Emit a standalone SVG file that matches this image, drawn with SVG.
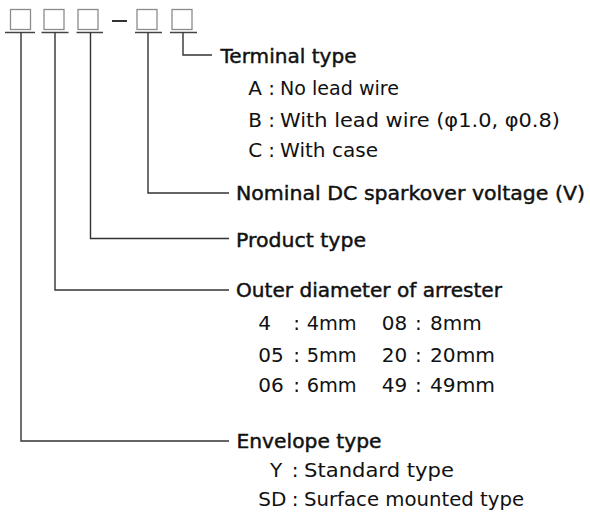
<svg xmlns="http://www.w3.org/2000/svg" width="590" height="517" viewBox="0 0 590 517">
<style>
.box{fill:none;stroke:#8c8c8c;stroke-width:1.3}
.ul{stroke:#444;stroke-width:1.5;fill:none}
.con{stroke:#333;stroke-width:1.4;fill:none}
text{font-family:"DejaVu Sans","Liberation Sans",sans-serif;font-size:20px;fill:#111}
.h{stroke:#111;stroke-width:0.45}
.c{text-anchor:middle}
</style>
<rect width="590" height="517" fill="#fff"/>
<g id="code">
<g id="box1"><rect class="box" x="10.5" y="9.5" width="20" height="20"/><line class="ul" x1="5" y1="32.5" x2="35" y2="32.5"/></g>
<g id="box2"><rect class="box" x="44" y="9.5" width="20" height="20"/><line class="ul" x1="41.5" y1="32.5" x2="68.5" y2="32.5"/></g>
<g id="box3"><rect class="box" x="78" y="9.5" width="20" height="20"/><line class="ul" x1="76.5" y1="32.5" x2="103" y2="32.5"/></g>
<line id="dash" x1="112" y1="21" x2="127" y2="21" stroke="#333" stroke-width="2"/>
<g id="box4"><rect class="box" x="137" y="9.5" width="20" height="20"/><line class="ul" x1="135" y1="32.5" x2="162" y2="32.5"/></g>
<g id="box5"><rect class="box" x="172" y="9.5" width="20" height="20"/><line class="ul" x1="170" y1="32.5" x2="197" y2="32.5"/></g>
</g>
<g id="connectors">
<polyline class="con" points="183,32.5 183,55 212,55"/>
<polyline class="con" points="148,32.5 148,193 229,193"/>
<polyline class="con" points="90.5,32.5 90.5,238.5 229,238.5"/>
<polyline class="con" points="55,32.5 55,290 229,290"/>
<polyline class="con" points="21,32.5 21,441 229,441"/>
</g>
<g id="terminal">
<text class="h" x="220.5" y="62.5" textLength="136" lengthAdjust="spacingAndGlyphs">Terminal type</text>
<text x="248.3" y="95">A</text><text class="c" x="271.7" y="95">:</text><text x="280" y="95" textLength="119" lengthAdjust="spacingAndGlyphs">No lead wire</text>
<text x="248.3" y="126.5">B</text><text class="c" x="271.7" y="126.5">:</text><text x="280" y="126.5" textLength="280" lengthAdjust="spacingAndGlyphs">With lead wire (φ1.0, φ0.8)</text>
<text x="248.3" y="157">C</text><text class="c" x="271.7" y="157">:</text><text x="280" y="157" textLength="98" lengthAdjust="spacingAndGlyphs">With case</text>
</g>
<g id="nominal">
<text class="h" x="236" y="200" textLength="349" lengthAdjust="spacingAndGlyphs">Nominal DC sparkover voltage (V)</text>
</g>
<g id="product">
<text class="h" x="236" y="246.5" textLength="130" lengthAdjust="spacingAndGlyphs">Product type</text>
</g>
<g id="outer">
<text class="h" x="236" y="297" textLength="266" lengthAdjust="spacingAndGlyphs">Outer diameter of arrester</text>
<text x="258.3" y="330">4</text><text class="c" x="296.7" y="330">:</text><text x="306.7" y="330" textLength="50" lengthAdjust="spacingAndGlyphs">4mm</text>
<text x="381.7" y="330">08</text><text class="c" x="418.3" y="330">:</text><text x="430" y="330" textLength="51.7" lengthAdjust="spacingAndGlyphs">8mm</text>
<text x="258.3" y="361.5">05</text><text class="c" x="296.7" y="361.5">:</text><text x="306.7" y="361.5" textLength="50" lengthAdjust="spacingAndGlyphs">5mm</text>
<text x="381.7" y="361.5">20</text><text class="c" x="418.3" y="361.5">:</text><text x="430" y="361.5" textLength="65" lengthAdjust="spacingAndGlyphs">20mm</text>
<text x="258.3" y="392">06</text><text class="c" x="296.7" y="392">:</text><text x="306.7" y="392" textLength="50" lengthAdjust="spacingAndGlyphs">6mm</text>
<text x="381.7" y="392">49</text><text class="c" x="418.3" y="392">:</text><text x="430" y="392" textLength="65" lengthAdjust="spacingAndGlyphs">49mm</text>
</g>
<g id="envelope">
<text class="h" x="236.5" y="448" textLength="145" lengthAdjust="spacingAndGlyphs">Envelope type</text>
<text x="270" y="476.7">Y</text><text class="c" x="295" y="476.7">:</text><text x="304" y="476.7" textLength="150" lengthAdjust="spacingAndGlyphs">Standard type</text>
<text x="258.3" y="506">SD</text><text class="c" x="295" y="506">:</text><text x="304" y="506" textLength="220" lengthAdjust="spacingAndGlyphs">Surface mounted type</text>
</g>
</svg>
